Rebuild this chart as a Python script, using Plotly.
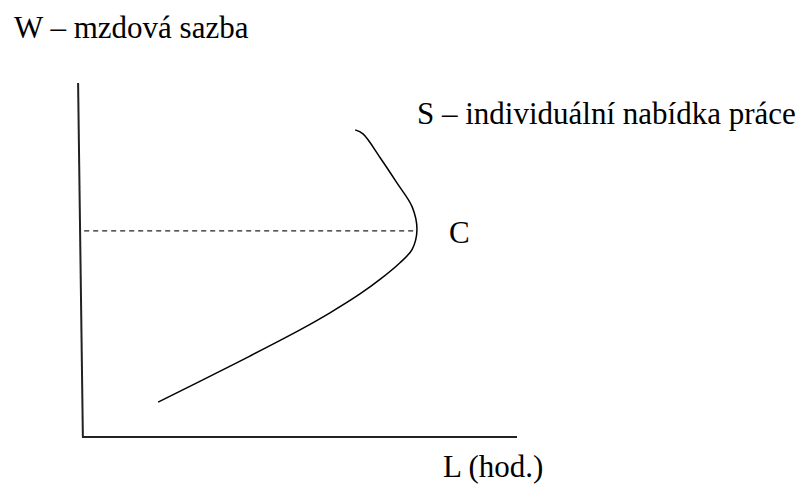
import plotly.graph_objects as go

# Backward-bending individual labour supply curve (arbitrary units)
supply_L = [1.75, 2.72, 3.86, 5.01, 5.70, 6.39, 6.85, 7.31, 7.59, 7.70, 7.59, 7.24, 6.85, 6.46, 6.28]
supply_W = [0.96, 1.54, 2.23, 2.95, 3.42, 3.94, 4.34, 4.80, 5.17, 5.70, 6.34, 7.00, 7.70, 8.35, 8.46]

# Point C: wage at which the curve bends back
C_W = 5.68
C_L = 7.68

# axis extents
W_axis_L = [-0.09, 0.02]
W_axis_W = [9.75, 0.0]
L_axis_L = [0.0, 10.0]
L_axis_W = [0.0, 0.0]

labels = {
    "W": "W \u2013 mzdová sazba",
    "S": "S \u2013 individuální nabídka práce",
    "C": "C",
    "L": "L (hod.)",
}

font = dict(family="'Liberation Serif', 'Times New Roman', serif", size=31, color="black")

fig = go.Figure()
fig.add_trace(go.Scatter(x=W_axis_L, y=W_axis_W, mode="lines",
                         line=dict(color="#222", width=2), hoverinfo="skip"))
fig.add_trace(go.Scatter(x=L_axis_L, y=L_axis_W, mode="lines",
                         line=dict(color="#222", width=2), hoverinfo="skip"))
fig.add_trace(go.Scatter(x=[0.05, C_L], y=[C_W, C_W], mode="lines",
                         line=dict(color="#222", width=1.3, dash="5px,4px"), hoverinfo="skip"))
fig.add_trace(go.Scatter(x=supply_L, y=supply_W, mode="lines",
                         line=dict(color="black", width=1.5, shape="spline", smoothing=1.0),
                         hoverinfo="skip"))

# label positions in data units
fig.add_annotation(x=-1.62, y=11.27, text=labels["W"], showarrow=False,
                   xanchor="left", yanchor="middle", font=font)
fig.add_annotation(x=7.66, y=8.90, text=labels["S"], showarrow=False,
                   xanchor="left", yanchor="middle", font=font)
fig.add_annotation(x=8.39, y=5.62, text=labels["C"], showarrow=False,
                   xanchor="left", yanchor="middle", font=font)
fig.add_annotation(x=8.25, y=-0.80, text=labels["L"], showarrow=False,
                   xanchor="left", yanchor="middle", font=font)

px_per_L = 43.5
px_per_W = 36.3
x0, y0 = 82, 437
fig.update_layout(
    width=806, height=497,
    margin=dict(l=0, r=0, t=0, b=0),
    paper_bgcolor="white", plot_bgcolor="white",
    showlegend=False,
    xaxis=dict(range=[-x0 / px_per_L, (806 - x0) / px_per_L], visible=False, fixedrange=True),
    yaxis=dict(range=[-(497 - y0) / px_per_W, y0 / px_per_W], visible=False, fixedrange=True),
)

fig.write_html("out.html", config={"displayModeBar": False},
               post_script="document.body.style.margin='0';document.body.style.overflow='hidden';")
